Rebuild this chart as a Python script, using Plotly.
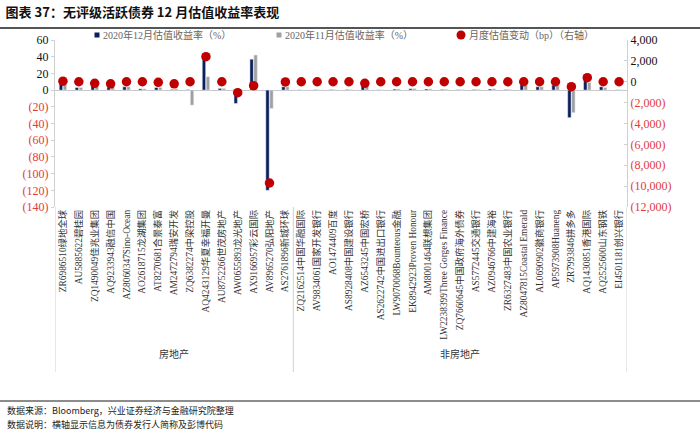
import plotly.graph_objects as go

categories = [
    "ZR6986510绿地全球", "AU5885622碧桂园", "ZQ1490049佳兆业集团", "AQ9233943融信中国",
    "AZ8060347Sino-Ocean", "AO2618715龙湖集团", "AT8270681合景泰富", "AM2472794瑞安开发",
    "ZQ6382274中梁控股", "AQ4243129华夏幸福开曼", "AU8752266世茂房地产", "AW0655893龙光地产",
    "AX9166957彩云国际", "AV8965270弘阳地产", "AS2761896新城环球",
    "ZQ2162514中国华融国际", "AV9834061国家开发银行", "AO1474409百度", "AS8928408中国建设银行",
    "AZ6543245中国宏桥", "AS2622742中国进出口银行", "LW9070068Bounteous金融",
    "EK8942923Proven Honour", "AM8001464联想集团", "LW2238399Three Gorges Finance",
    "ZQ7660645中国政府海外债券", "AS5772445交通银行", "AZ0946766中建海裕",
    "ZR6327483中国农业银行", "AZ8047815Coastal Emerald", "AL0690902徽商银行",
    "AP5973908Huaneng", "ZR7993846拼多多", "AQ1430851香港国际", "AQ2525600山东钢铁",
    "EI4501181创兴银行",
]
groups = ["房地产", "非房地产"]
group_sizes = [15, 21]

dec_yield = [9, 3, 8, 3, 4, 1.5, 3, 0.8, 0.5, 38, 2, -16, 37, -120, 4,
             0.3, 0.4, 0.5, 0.6, 9, 0.3, 1.2, 1.6, 1.3, 0.8, 0.4, 0.7, 1.3, 0.6,
             7, 4, 6, -33, 14, 4, 0.3]
nov_yield = [7, 3, 5, 4, 4, 1.5, 3, 1.5, -18, 16, 2, -1, 42, -22, 4,
             0.2, 0.4, 0.5, 0.6, 7, 0.3, 1.3, 1.8, 1.4, 0.9, 0.5, 0.8, 1.5, 0.7,
             6, 4, 6, -27, 9, 3, 0.4]
change_bp = [50, 0, -150, -200, 0, 0, -50, -200, 0, 2400, 0, -1050, -380, -9700, -20,
             0, 0, 0, 0, -150, 0, 0, 0, 0, 0, 0, 0, 0, 0, 0, 0, 0, -470, 390, 0, 0]

series_names = ["2020年12月估值收益率（%）", "2020年11月估值收益率（%）", "月度估值变动（bp）（右轴）"]
series_colors = ["#0B1F5C", "#A0A0A0", "#C00000"]

left_ticks = [60, 40, 20, 0, -20, -40, -60, -80, -100, -120, -140]
right_ticks = [4000, 2000, 0, -2000, -4000, -6000, -8000, -10000, -12000]


def fmt(v, red="#E03C3C"):
    if v < 0:
        return f'<span style="color:{red}">({abs(v):,})</span>'
    return f"{v:,}"


serif = "Liberation Serif, Noto Sans CJK SC"
cjk = "Noto Sans CJK SC"

fig = go.Figure()
fig.add_trace(go.Bar(x=categories, y=dec_yield, name=series_names[0],
                     marker_color=series_colors[0]))
fig.add_trace(go.Bar(x=categories, y=nov_yield, name=series_names[1],
                     marker_color=series_colors[1]))
fig.add_trace(go.Scatter(x=categories, y=change_bp, name=series_names[2],
                         mode="markers", yaxis="y2",
                         marker=dict(color=series_colors[2], size=9.5)))

W, H = 700, 430
L, R, T, B = 55, 73, 40, 223
pw = W - L - R
ph = H - T - B


def px_x(x):
    return (x - L) / pw


def px_y(y):
    return (H - B - y) / ph


fig.update_layout(
    width=W, height=H,
    margin=dict(l=L, r=R, t=T, b=B, autoexpand=False),
    paper_bgcolor="white", plot_bgcolor="white",
    barmode="group", bargap=0.5, bargroupgap=0.15,
    showlegend=False,
    title=dict(text="<b>图表 37：无评级活跃债券 12 月估值收益率表现</b>",
               xref="container", yref="container", x=0.008, y=1 - 12 / H,
               xanchor="left", yanchor="middle",
               font=dict(family=cjk, size=13, color="#111111")),
    xaxis=dict(type="category", tickangle=-90, showline=False, showgrid=False,
               ticks="", tickfont=dict(family=serif, size=9.4, color="#333333"),
               range=[-0.5, len(categories) - 0.5]),
    yaxis=dict(range=[-140, 60], tickvals=left_ticks,
               ticktext=[fmt(v) for v in left_ticks],
               showgrid=False, showline=True, linecolor="#D0D0D0", ticks="outside",
               ticklen=3, tickcolor="#D0D0D0",
               zeroline=True, zerolinecolor="#C8C8C8", zerolinewidth=1,
               tickfont=dict(family=serif, size=12, color="#111111")),
    yaxis2=dict(range=[-12000, 4000], overlaying="y", side="right",
                tickvals=right_ticks, ticktext=[fmt(v) for v in right_ticks],
                showgrid=False, showline=True, linecolor="#D0D0D0", ticks="inside",
                ticklen=3, tickcolor="#D0D0D0", zeroline=False,
                tickfont=dict(family=serif, size=12, color="#111111")),
)

shapes = []
# manual legend
legend_x = [97, 279, 461]
ly = 35
for i, (nm, col) in enumerate(zip(series_names, series_colors)):
    lx = legend_x[i]
    if i < 2:
        shapes.append(dict(type="rect", xref="paper", yref="paper",
                           x0=px_x(lx - 2.5), x1=px_x(lx + 2.5),
                           y0=px_y(ly + 2.5), y1=px_y(ly - 2.5),
                           fillcolor=col, line=dict(width=0)))
    else:
        shapes.append(dict(type="circle", xref="paper", yref="paper",
                           x0=px_x(lx - 4.5), x1=px_x(lx + 4.5),
                           y0=px_y(ly + 4.5), y1=px_y(ly - 4.5),
                           fillcolor=col, line=dict(width=0)))
    fig.add_annotation(x=px_x(lx + (4 if i < 2 else 6)), y=px_y(ly), xref="paper", yref="paper",
                       xanchor="left", yanchor="middle", showarrow=False, text=nm,
                       font=dict(family=serif, size=10, color="#666666"))

# group dividers and labels
x0 = 0
bottom = px_y(372)
for i, n in enumerate(group_sizes):
    left_edge = x0 - 0.5
    shapes.append(dict(type="line", xref="x", yref="paper", x0=left_edge, x1=left_edge,
                       y0=bottom, y1=0, line=dict(color="#D0D0D0", width=1)))
    fig.add_annotation(x=x0 + (n - 1) / 2, xref="x", y=px_y(363), yref="paper",
                       text=groups[i], showarrow=False,
                       font=dict(family=cjk, size=10, color="#333333"))
    x0 += n
shapes.append(dict(type="line", xref="x", yref="paper", x0=x0 - 0.5, x1=x0 - 0.5,
                   y0=bottom, y1=0, line=dict(color="#D0D0D0", width=1)))
# title rule and footer rule
shapes.append(dict(type="line", xref="paper", yref="paper", x0=px_x(0), x1=px_x(700),
                   y0=px_y(28), y1=px_y(28), line=dict(color="#555555", width=2)))
shapes.append(dict(type="line", xref="paper", yref="paper", x0=px_x(0), x1=px_x(700),
                   y0=px_y(401), y1=px_y(401), line=dict(color="#666666", width=1.5)))
fig.update_layout(shapes=shapes)

fig.add_annotation(x=px_x(5), y=px_y(410), xref="paper", yref="paper", xanchor="left",
                   yanchor="middle", showarrow=False,
                   text="数据来源：Bloomberg，兴业证券经济与金融研究院整理",
                   font=dict(family=cjk, size=9, color="#222222"))
fig.add_annotation(x=px_x(5), y=px_y(424), xref="paper", yref="paper", xanchor="left",
                   yanchor="middle", showarrow=False,
                   text="数据说明：横轴显示信息为债券发行人简称及彭博代码",
                   font=dict(family=cjk, size=9, color="#222222"))

fig.write_html("out.html", config={"displayModeBar": False},
               post_script="document.body.style.margin='0px';document.body.style.overflow='hidden';")
